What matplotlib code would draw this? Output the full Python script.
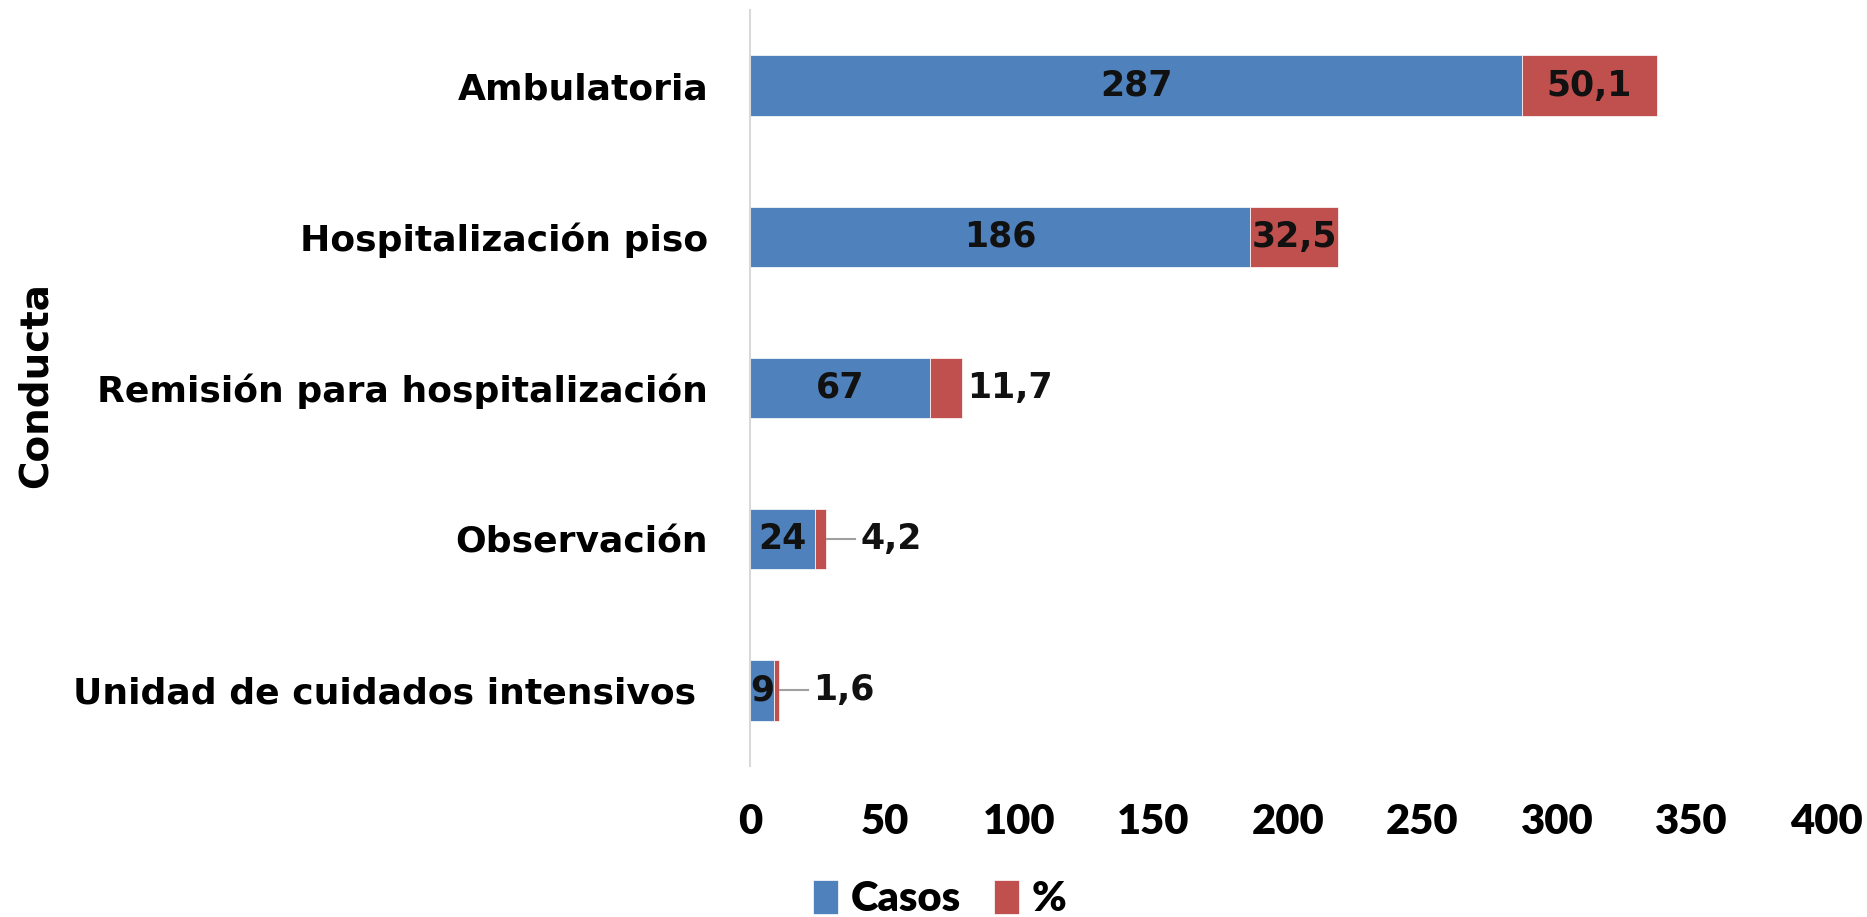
import matplotlib
matplotlib.use("Agg")
import matplotlib.pyplot as plt
import numpy as np

# Data
categorias = ["Unidad de cuidados intensivos ", "Observación", "Remisión para hospitalización",
              "Hospitalización piso", "Ambulatoria"]
casos = [9, 24, 67, 186, 287]
porcentaje = [1.6, 4.2, 11.7, 32.5, 50.1]
xticks = [0, 50, 100, 150, 200, 250, 300, 350, 400]

azul = "#4F81BD"
rojo = "#C0504D"

ancha = ['DejaVu Sans']
estrecha = ['Lato', 'DejaVu Sans']
plt.rcParams['font.family'] = estrecha
plt.rcParams['font.weight'] = 'bold'

fig = plt.figure(figsize=(18.67, 9.17), dpi=100)
ax = fig.add_axes([750/1867, 1 - 766/917, (1826-750)/1867, (766-10)/917])

y = np.arange(len(categorias))
b1 = ax.barh(y, casos, height=0.4, color=azul, edgecolor="white", linewidth=0.5, label="Casos")
b2 = ax.barh(y, porcentaje, left=casos, height=0.4, color=rojo, edgecolor="white", linewidth=0.5, label="%")

# Labels for Casos, centered inside the blue part
for i in range(len(casos)):
    ax.text(casos[i] / 2, y[i], str(casos[i]), ha="center", va="center",
            fontsize=25, fontweight="bold", family=ancha, color="#111111")

# Labels for %, inside when wide enough, outside otherwise
for i in range(len(porcentaje)):
    txt = ("%.1f" % porcentaje[i]).replace(".", ",")
    end = casos[i] + porcentaje[i]
    if porcentaje[i] > 20:
        ax.text(casos[i] + porcentaje[i] / 2, y[i], txt, ha="center", va="center",
                fontsize=25, fontweight="bold", family=ancha, color="#111111")
    elif porcentaje[i] > 10:
        ax.text(end + 2, y[i], txt, ha="left", va="center",
                fontsize=25, fontweight="bold", family=ancha, color="#111111")
    else:
        ax.plot([end + 0.5, end + 11], [y[i], y[i]], color="#A0A0A0", lw=1.5)
        ax.text(end + 13, y[i], txt, ha="left", va="center",
                fontsize=25, fontweight="bold", family=ancha, color="#111111")

ax.set_xlim(0, 400)
ax.set_ylim(-0.5, 4.5)
ax.set_xticks(xticks)
ax.set_xticklabels([str(v) for v in xticks], fontsize=30, fontweight="heavy")
ax.set_yticks(y)
ax.set_yticklabels(categorias, fontsize=26, fontweight="bold", family=ancha)
ax.tick_params(axis="x", length=0, pad=27)
ax.tick_params(axis="y", length=0, pad=30)

for s in ["top", "right", "bottom"]:
    ax.spines[s].set_visible(False)
ax.spines["left"].set_color("#D9D9D9")
ax.spines["left"].set_linewidth(1.5)

fig.text(36/1867, 1 - 385/917, "Conducta", rotation=90, ha="center", va="center",
         fontsize=28, fontweight="bold", family=ancha)

fig.legend(handles=[b1, b2], labels=["Casos", "%"], loc="center", bbox_to_anchor=(940/1867, 1 - 899/917),
           ncol=2, frameon=False, handlelength=0.6, handleheight=0.9,
           handletextpad=0.3, columnspacing=0.8, prop={"size": 30, "weight": "heavy"})

fig.savefig("out.png", dpi=100)
